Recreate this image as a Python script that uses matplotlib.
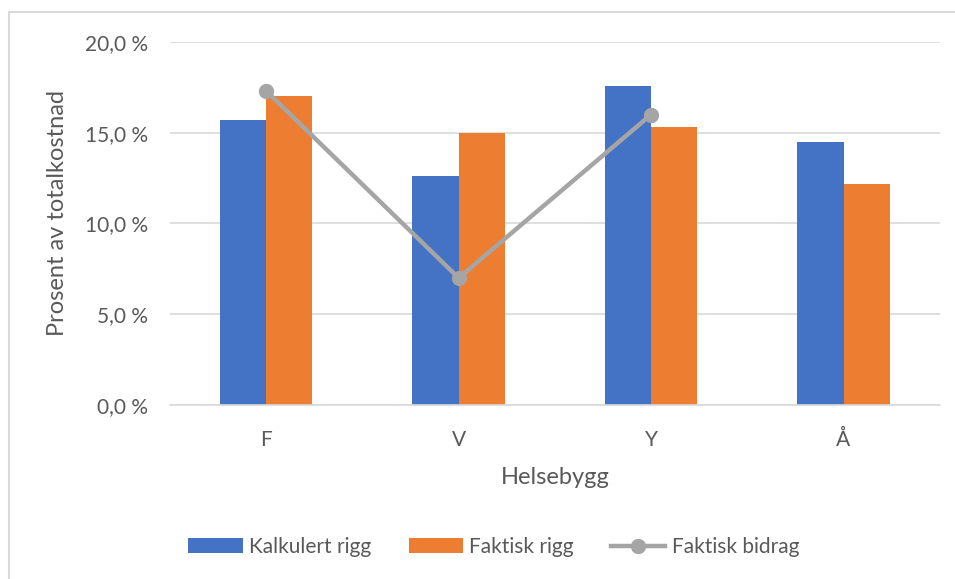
import matplotlib
matplotlib.use("Agg")
import matplotlib.pyplot as plt
import numpy as np
from matplotlib.patches import Rectangle
from matplotlib.ticker import FuncFormatter

plt.rcParams["font.family"] = ["Lato", "DejaVu Sans"]

categories = ["F", "V", "Y", "Å"]
kalkulert_rigg = [15.7, 12.6, 17.6, 14.5]
faktisk_rigg = [17.0, 15.0, 15.3, 12.2]
faktisk_bidrag = [17.3, 7.0, 16.0]  # no value for Å

BLUE = "#4472c4"
ORANGE = "#ed7d31"
GREY = "#a5a5a5"
TEXT = "#595959"

fig = plt.figure(figsize=(9.55, 5.79), dpi=100)
ax = fig.add_axes([0.178, 0.3005, 0.806, 0.627])

x = np.arange(len(categories))
w = 0.24
b1 = ax.bar(x - w / 2, kalkulert_rigg, w, color=BLUE, label="Kalkulert rigg", zorder=2)
b2 = ax.bar(x + w / 2, faktisk_rigg, w, color=ORANGE, label="Faktisk rigg", zorder=2)
ln, = ax.plot(x[:len(faktisk_bidrag)], faktisk_bidrag, color=GREY, lw=3.2,
              marker="o", ms=10, label="Faktisk bidrag", zorder=3)

ax.set_xlim(-0.5, len(categories) - 0.5)
ax.set_ylim(0, 20)
ax.set_yticks(np.arange(0, 20.1, 5))
ax.yaxis.set_major_formatter(FuncFormatter(lambda v, p: f"{v:.1f} %".replace(".", ",")))
ax.set_xticks(x)
ax.set_xticklabels(categories)
ax.grid(axis="y", color="#d9d9d9", lw=1.2, zorder=0)
for s in ["top", "right", "left"]:
    ax.spines[s].set_visible(False)
ax.spines["bottom"].set_color("#d9d9d9")
ax.spines["bottom"].set_linewidth(1.2)
ax.tick_params(length=0, labelsize=15, colors=TEXT)
ax.tick_params(axis="x", pad=18)
ax.tick_params(axis="y", pad=16)

ax.set_xlabel("Helsebygg", fontsize=17, color=TEXT, labelpad=12)
fig.text(57 / 955, 1 - 213 / 579, "Prosent av totalkostnad", rotation=90,
         ha="center", va="center", fontsize=17, color=TEXT)

fig.legend(handles=[b1, b2, ln], loc="center", bbox_to_anchor=(0.517, 1 - 547 / 579),
           ncol=3, frameon=False, fontsize=15, labelcolor=TEXT,
           handlelength=2.6, handletextpad=0.3, columnspacing=1.8)

# chart area border (top and left edges visible)
fig.add_artist(Rectangle((8.5 / 955, -0.1), 1.2, 1.1 - 12.5 / 579,
                         transform=fig.transFigure, fill=False,
                         edgecolor="#d9d9d9", lw=1.5))

fig.savefig("out.png", dpi=100, facecolor="white")
